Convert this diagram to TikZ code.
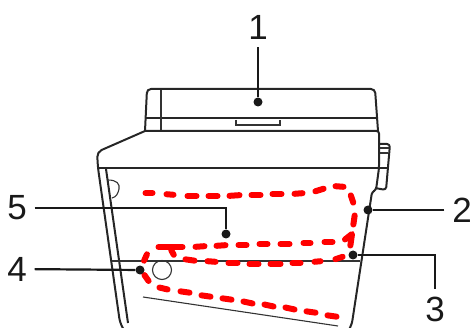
\documentclass[tikz,border=0pt]{standalone}
\usepackage{fontspec}
\setmainfont{Liberation Sans}
\tikzset{
    callout/.style={font=\fontsize{35}{35}\selectfont, inner sep=0pt, outer sep=8pt, text=black!90},
    dot/.style={circle, fill=black!90, inner sep=0pt, minimum size=9pt},
    leader/.style={black!90, line width=2.2pt},
    body/.style={black!85, line width=2pt, line join=round},
    fine/.style={black!80, line width=1.1pt},
    route/.style={red, line width=6pt, line cap=round, line join=round, shorten >=2.5pt, shorten <=2.5pt}
}
\begin{document}
\begin{tikzpicture}[x=1pt, y=-1pt]
    \useasboundingbox (0,0) rectangle (473,328);
    % scanner lid
    \draw[body, rounded corners=4pt] (145,131) -- (147,89) -- (375,89) -- (378,131);
    \draw[body] (146,118) -- (376,118);
    \draw[fine] (161,90) -- (161,131);
    \draw[fine] (236,120) -- (236,125) -- (280,125) -- (280,120);
    % main housing
    \draw[body, rounded corners=2.5pt] (145,131) -- (379,131) -- (379,168) -- (376,190) -- (372,192) -- (352,323) -- (349,330);
    \draw[body, rounded corners=5pt] (145,131) -- (97,152) -- (98,168) -- (120,323) -- (124,330);
    \draw[body] (98,168) -- (387,168);
    \draw[body] (106,169) -- (128,323);
    \draw[body, rounded corners=3pt] (380,144) -- (390,144) -- (386,190) -- (375,188);
    \draw[fine] (380,148) -- (389,148);
    \draw[fine] (380,153) -- (388,153);
    \draw[fine] (108,180) .. controls (117,180) and (120,184) .. (119,189) .. controls (118,194) and (116,197) .. (112,198);
    % paper tray
    \draw[fine] (112,261) -- (360,261);
    \draw[fine] (162,270) circle (9.5pt);
    \draw[fine] (143,297) -- (338,326);
    % paper route
    \foreach \xa/\ya/\xb/\yb in {143/193/155/193, 164/194/176/195, 185/196/199/196, 206/196/220/196,
        227/196/242/195, 249/195/263/195, 270/194/284/194, 292/194/305/193, 313/192/326/188,
        333/186/346/187, 350/193/354/205, 355/213/353/227,
        322/242/335/242, 301/243/313/243, 278/244/292/244, 257/244/270/244, 236/245/249/245,
        214/246/228/245, 193/247/207/246, 156/247/185/247, 170/248/175/257,
        148/252/143/263, 143/273/150/283,
        183/259/197/261, 205/261/218/262, 226/263/240/263, 247/264/261/264, 268/264/283/264,
        290/263/303/263, 312/262/323/261, 333/260/345/256,
        157/287/170/290, 178/291/192/293, 199/295/213/297, 220/298/234/300, 241/301/255/304,
        262/304/276/307, 283/307/297/310, 304/311/318/313, 325/315/339/317}
        \draw[route] (\xa,\ya) -- (\xb,\yb);
    \draw[route] (343,241) -- (352,234) -- (350,248);
    % callouts
    \node[callout] (one) at (258,27) {1};
    \node[callout] (two) at (462,210) {2};
    \node[callout] (three) at (435,309) {3};
    \node[callout] (four) at (17,269) {4};
    \node[callout] (five) at (17,208) {5};
    \node[dot] (tipone) at (258,102) {};
    \node[dot] (tiptwo) at (368,210) {};
    \node[dot] (tipthree) at (353,255) {};
    \node[dot] (tipfour) at (140,270) {};
    \node[dot] (tipfive) at (226,234) {};
    \draw[leader] (one) -- (tipone);
    \draw[leader] (two) -- (tiptwo);
    \draw[leader] (three) -- (three |- tipthree) -- (tipthree);
    \draw[leader] (four) -- (tipfour);
    \draw[leader] (five) -- (five -| tipfive) -- (tipfive);
\end{tikzpicture}
\end{document}
